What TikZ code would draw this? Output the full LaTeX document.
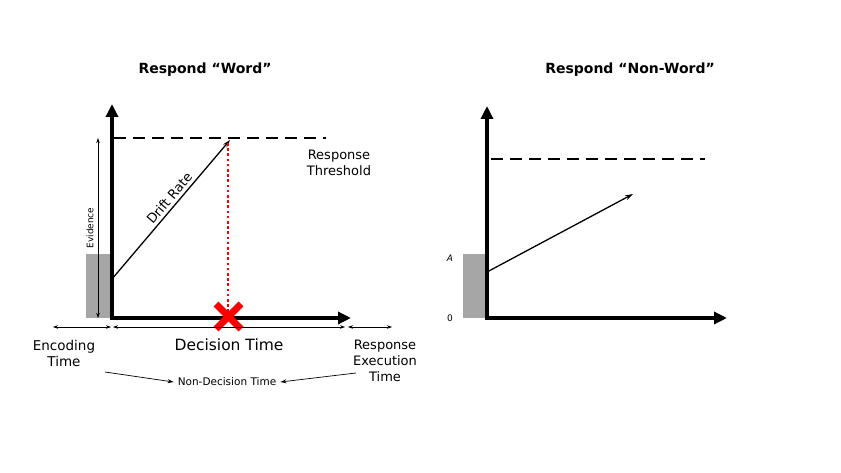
\documentclass[tikz,border=0pt]{standalone}
\usepackage{fontspec}
\setmainfont{DejaVu Sans}
\usetikzlibrary{arrows.meta}
\begin{document}
\begin{tikzpicture}[x=1pt,y=-1pt,
  axis/.style={line width=3.5pt,-{Triangle[length=13pt,width=12pt]}},
  thresh/.style={line width=2.8pt,dash pattern=on 12pt off 7pt},
  drift/.style={line width=1.3pt,-{Stealth[length=8pt,width=5pt]}},
  span/.style={line width=0.6pt,{Stealth[length=5pt,width=3.5pt]}-{Stealth[length=5pt,width=3.5pt]}},
  pointer/.style={line width=0.7pt,-{Stealth[length=6pt,width=4pt]}},
  startbox/.style={fill=black!35,draw=none},
  lbl/.style={inner sep=0pt,align=center,font=\fontsize{13}{16}\selectfont},
  title/.style={inner sep=0pt,font=\bfseries\fontsize{14}{16}\selectfont}
]
\useasboundingbox (0,0) rectangle (841,473);
% ---------- left panel ----------
\coordinate (LO) at (112,318);
\coordinate (LY) at (112,104);
\coordinate (LX) at (351,318);
\coordinate (LT1) at (114,138);
\coordinate (LT2) at (326,138);
\coordinate (LS) at (112,279);
\coordinate (LE) at (230,140);
\coordinate (LR1) at (228,143);
\coordinate (LR2) at (228,312);
\coordinate (EV1) at (98,138);
\coordinate (EV2) at (98,318);
\fill[startbox] (86,254) rectangle (112,318);
\draw[span,line width=0.8pt] (EV1) -- (EV2);
\node[rotate=90,inner sep=0pt,font=\fontsize{9}{11}\selectfont] (evid) at (90,228) {Evidence};
\draw[axis] (112,320) -- (LY);
\draw[axis] (110,318) -- (LX);
\draw[thresh] (LT1) -- (LT2);
\draw[drift] (LS) -- (LE);
\node[rotate=49.7,inner sep=1pt,anchor=south,font=\fontsize{13}{15}\selectfont] (dr) at (174,202) {Drift Rate};
\draw[red,line width=2.6pt,dash pattern=on 2.6pt off 2.6pt] (LR1) -- (LR2);
\draw[red,line width=7pt] (216,304) -- (241,329);
\draw[red,line width=7pt] (241,304) -- (216,329);
\node[lbl] (rt) at (339,163) {Response\\Threshold};
\node[title] (t1) at (205,70) {Respond “Word”};
% time spans
\coordinate (S0) at (53,327);
\coordinate (S1) at (111,327);
\coordinate (S2) at (113,327);
\coordinate (S3) at (345,327);
\coordinate (S4) at (348,327);
\coordinate (S5) at (392,327);
\draw[span] (S0) -- (S1);
\draw[span] (S2) -- (S3);
\draw[span] (S4) -- (S5);
\node[lbl,font=\fontsize{13.5}{16}\selectfont] (enc) at (64,353) {Encoding\\Time};
\node[lbl,font=\fontsize{15.5}{18}\selectfont] (dec) at (229,345) {Decision Time};
\node[lbl] (ret) at (385,361) {Response\\Execution\\Time};
\node[inner sep=0pt,font=\fontsize{10.5}{12}\selectfont] (ndt) at (227,382) {Non-Decision Time};
\coordinate (P1) at (105,372);
\coordinate (P2) at (356,373);
\draw[pointer] (P1) -- ([xshift=-4pt]ndt.west);
\draw[pointer] (P2) -- ([xshift=4pt]ndt.east);
% ---------- right panel ----------
\coordinate (RY) at (487,106);
\coordinate (RX) at (727,318);
\coordinate (RT1) at (491,159);
\coordinate (RT2) at (705,159);
\coordinate (RS) at (487,272);
\coordinate (RE) at (633,194);
\fill[startbox] (463,254) rectangle (487,318);
\draw[axis] (487,320) -- (RY);
\draw[axis] (485,318) -- (RX);
\draw[thresh] (RT1) -- (RT2);
\draw[drift] (RS) -- (RE);
\node[inner sep=0pt,font=\itshape\fontsize{9}{11}\selectfont] (la) at (450,258) {A};
\node[inner sep=0pt,font=\fontsize{9}{11}\selectfont] (l0) at (450,318) {0};
\node[title] (t2) at (630,70) {Respond “Non-Word”};
\end{tikzpicture}
\end{document}
